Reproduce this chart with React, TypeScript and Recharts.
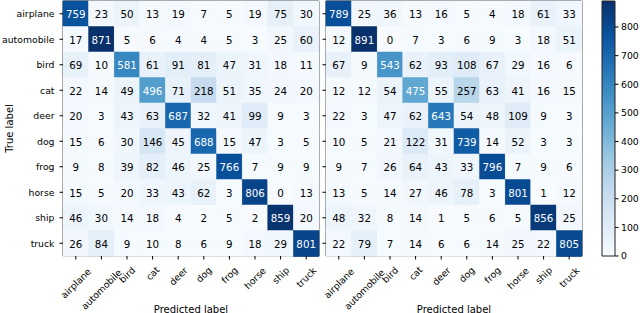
import { BarChart, Bar, XAxis, YAxis, ReferenceArea } from "recharts";

const classes = ["airplane", "automobile", "bird", "cat", "deer", "dog", "frog", "horse", "ship", "truck"];

// rows = true label, columns = predicted label
const leftMatrix = [
  [759, 23, 50, 13, 19, 7, 5, 19, 75, 30],
  [17, 871, 5, 6, 4, 4, 5, 3, 25, 60],
  [69, 10, 581, 61, 91, 81, 47, 31, 18, 11],
  [22, 14, 49, 496, 71, 218, 51, 35, 24, 20],
  [20, 3, 43, 63, 687, 32, 41, 99, 9, 3],
  [15, 6, 30, 146, 45, 688, 15, 47, 3, 5],
  [9, 8, 39, 82, 46, 25, 766, 7, 9, 9],
  [15, 5, 20, 33, 43, 62, 3, 806, 0, 13],
  [46, 30, 14, 18, 4, 2, 5, 2, 859, 20],
  [26, 84, 9, 10, 8, 6, 9, 18, 29, 801],
];

const rightMatrix = [
  [789, 25, 36, 13, 16, 5, 4, 18, 61, 33],
  [12, 891, 0, 7, 3, 6, 9, 3, 18, 51],
  [67, 9, 543, 62, 93, 108, 67, 29, 16, 6],
  [12, 12, 54, 475, 55, 257, 63, 41, 16, 15],
  [22, 3, 47, 62, 643, 54, 48, 109, 9, 3],
  [10, 5, 21, 122, 31, 739, 14, 52, 3, 3],
  [9, 7, 26, 64, 43, 33, 796, 7, 9, 6],
  [13, 5, 14, 27, 46, 78, 3, 801, 1, 12],
  [48, 32, 8, 14, 1, 5, 6, 5, 856, 25],
  [22, 79, 7, 14, 6, 6, 14, 25, 22, 805],
];

const colorbarTicks = [0, 100, 200, 300, 400, 500, 600, 700, 800];

// matplotlib "Blues"
const bluesStops = ["#f7fbff", "#deebf7", "#c6dbef", "#9ecae1", "#6baed6", "#4292c6", "#2171b5", "#08519c", "#08306b"];

const FONT = "DejaVu Sans";
const TICK_FS = 9.3;
const CELL_FS = 10.3;

function hexToRgb(h: string) {
  return [1, 3, 5].map((i) => parseInt(h.slice(i, i + 2), 16));
}

function blues(t: number) {
  const c = Math.max(0, Math.min(1, t)) * (bluesStops.length - 1);
  const i = Math.min(Math.floor(c), bluesStops.length - 2);
  const f = c - i;
  const a = hexToRgb(bluesStops[i]);
  const b = hexToRgb(bluesStops[i + 1]);
  const rgb = a.map((v, k) => Math.round(v + (b[k] - v) * f));
  return `rgb(${rgb[0]},${rgb[1]},${rgb[2]})`;
}

let ctx: CanvasRenderingContext2D | null = null;
function textWidth(s: string, fs: number) {
  if (!ctx) ctx = document.createElement("canvas").getContext("2d");
  if (!ctx) return s.length * fs * 0.6;
  ctx.font = `${fs}px "${FONT}"`;
  return ctx.measureText(s).width;
}

const colTicks = classes.map((_, j) => j + 0.5);

function RotatedTick(props: any) {
  const { x, y, payload } = props;
  const label = classes[Math.floor(payload.value)];
  const side = (textWidth(label, TICK_FS) + TICK_FS * 1.15) * Math.SQRT1_2;
  const cy = y + side * 0.6;
  return (
    <text
      x={x}
      y={cy}
      transform={`rotate(-45 ${x} ${cy})`}
      textAnchor="middle"
      dominantBaseline="central"
      fontSize={TICK_FS}
      fontFamily={FONT}
      fill="#000"
    >
      {label}
    </text>
  );
}

function Matrix({ matrix, left, width, yLabels }: { matrix: number[][]; left: number; width: number; yLabels: boolean }) {
  const vmax = Math.max(...matrix.flat());
  const rows = classes.map((name, i) => {
    const row: Record<string, any> = { name };
    matrix[i].forEach((v, j) => {
      row[`u${j}`] = 1;
      row[`v${j}`] = v;
    });
    return row;
  });

  const cellShape = (j: number) => (p: any) => {
    const v = p.payload[`v${j}`];
    const fill = blues(v / vmax);
    return (
      <g>
        <rect x={p.x} y={p.y} width={p.width} height={p.height} fill={fill} stroke={fill} strokeWidth={0.5} />
        <text
          x={p.x + p.width / 2}
          y={p.y + p.height / 2}
          textAnchor="middle"
          dominantBaseline="central"
          fontSize={CELL_FS}
          fontFamily={FONT}
          fill={v > vmax / 2 ? "#fff" : "#000"}
        >
          {v}
        </text>
      </g>
    );
  };

  return (
    <div style={{ position: "absolute", left, top: 0 }}>
      <BarChart
        width={width}
        height={313}
        data={rows}
        layout="vertical"
        barCategoryGap={0}
        barGap={0}
        margin={{ top: 1, right: 2, bottom: 0, left: 0 }}
        style={{ overflow: "visible" }}
      >
        <XAxis
          type="number"
          domain={[0, 10]}
          ticks={colTicks}
          interval={0}
          height={57}
          tickSize={3.5}
          tickMargin={3}
          tick={<RotatedTick />}
          axisLine={false}
          tickLine={{ stroke: "#000" }}
          label={{ value: "Predicted label", position: "insideBottom", offset: 0.5, fontSize: 10, fontFamily: FONT, fill: "#000" }}
        />
        <YAxis
          type="category"
          dataKey="name"
          width={yLabels ? 63 : 6}
          interval={0}
          tickSize={3.5}
          tickMargin={5}
          axisLine={false}
          tickLine={{ stroke: "#000" }}
          tick={{ fontSize: TICK_FS, fontFamily: FONT, fill: "#000" }}
          tickFormatter={yLabels ? undefined : () => ""}
          label={
            yLabels
              ? {
                  value: "True label",
                  content: (lp: any) => {
                    const vb = lp.viewBox || { x: 0, y: 1, width: 63, height: 255 };
                    const cx = vb.x + 9;
                    const cy = vb.y + vb.height / 2;
                    return (
                      <text
                        x={cx}
                        y={cy}
                        transform={`rotate(-90 ${cx} ${cy})`}
                        textAnchor="middle"
                        dominantBaseline="central"
                        fontSize={10}
                        fontFamily={FONT}
                        fill="#000"
                      >
                        True label
                      </text>
                    );
                  },
                }
              : undefined
          }
        />
        {classes.map((_, j) => (
          <Bar key={j} dataKey={`u${j}`} stackId="m" isAnimationActive={false} shape={cellShape(j)} />
        ))}
        <ReferenceArea x1={0} x2={10} y1="airplane" y2="truck" fill="none" stroke="#222" strokeWidth={1} ifOverflow="visible" />
      </BarChart>
    </div>
  );
}

function Colorbar() {
  const cbMax = Math.max(...rightMatrix.flat());
  const data = [{ name: "cb", top: cbMax }];
  return (
    <div style={{ position: "absolute", left: 590, top: 0 }}>
      <BarChart
        width={50}
        height={313}
        data={data}
        barCategoryGap={0}
        margin={{ top: 1, right: 0, bottom: 57, left: 12 }}
        style={{ overflow: "visible" }}
      >
        <defs>
          <linearGradient id="cbGrad" x1="0" y1="1" x2="0" y2="0">
            {bluesStops.map((c, i) => (
              <stop key={i} offset={`${(i / (bluesStops.length - 1)) * 100}%`} stopColor={c} />
            ))}
          </linearGradient>
        </defs>
        <XAxis dataKey="name" hide />
        <YAxis
          orientation="right"
          domain={[0, cbMax]}
          ticks={colorbarTicks}
          interval={0}
          width={25}
          tickSize={3.5}
          tickMargin={2.5}
          axisLine={false}
          tickLine={{ stroke: "#000" }}
          tick={{ fontSize: TICK_FS, fontFamily: FONT, fill: "#000", textAnchor: "start" }}
        />
        <Bar dataKey="top" fill="url(#cbGrad)" stroke="#222" strokeWidth={1} isAnimationActive={false} />
      </BarChart>
    </div>
  );
}

export default function App() {
  return (
    <div style={{ position: "absolute", left: 0, top: 0, width: 640, height: 313, overflow: "hidden", background: "#fff", fontFamily: FONT }}>
      <Matrix matrix={leftMatrix} left={0} width={321} yLabels />
      <Matrix matrix={rightMatrix} left={320} width={264} yLabels={false} />
      <Colorbar />
    </div>
  );
}
